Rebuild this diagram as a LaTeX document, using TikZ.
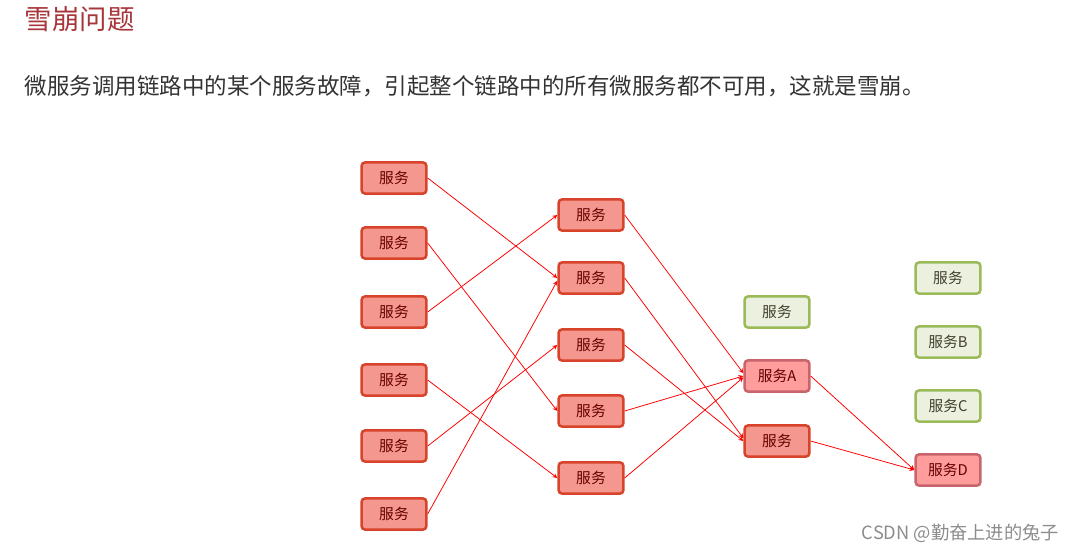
\documentclass[tikz,border=0pt]{standalone}
\usepackage{fontspec}
\setmainfont{Noto Sans CJK SC}
\newfontfamily\cjk{Noto Sans CJK SC}
\definecolor{boxred}{HTML}{F4978E}
\definecolor{edgered}{HTML}{D8432B}
\definecolor{boxpink}{HTML}{FF9C9C}
\definecolor{edgepink}{HTML}{C8646C}
\definecolor{boxgreen}{HTML}{EBF1DE}
\definecolor{edgegreen}{HTML}{9BBB59}
\definecolor{titlered}{HTML}{A8353A}
\begin{document}
\begin{tikzpicture}[>=stealth, x=0.025cm, y=-0.025cm,
 svc/.style={draw=edgered, fill=boxred, line width=1.8pt, rounded corners=2.5pt,
  minimum width=1.62cm, minimum height=0.78cm, inner sep=0pt,
  font=\cjk\fontsize{10.5}{10.5}\selectfont, text=red!40!black},
 bad/.style={svc, draw=edgepink, fill=boxpink},
 ok/.style={svc, draw=edgegreen, fill=boxgreen, text=black!70!olive},
 call/.style={->, red, line width=0.55pt}]
\useasboundingbox (0,0) rectangle (1079,552);
\node[anchor=west, text=titlered, font=\fontsize{19.5}{20}\selectfont] (title) at (20,19) {雪崩问题};
\node[anchor=west, text=black!80, font=\fontsize{16}{17}\selectfont] (desc) at (20,86)
 {微服务调用链路中的某个服务故障，引起整个链路中的所有微服务都不可用，这就是雪崩。};
% first column
\node[svc] (a1) at (394,178) {服务};
\node[svc] (a2) at (394,243) {服务};
\node[svc] (a3) at (394,312) {服务};
\node[svc] (a4) at (394,380) {服务};
\node[svc] (a5) at (394,446) {服务};
\node[svc] (a6) at (394,514) {服务};
% second column
\node[svc] (b1) at (591,215) {服务};
\node[svc] (b2) at (591,278) {服务};
\node[svc] (b3) at (591,345) {服务};
\node[svc] (b4) at (591,411) {服务};
\node[svc] (b5) at (591,478) {服务};
% third column
\node[ok] (c1) at (777,312) {服务};
\node[bad] (cA) at (777,376) {服务A};
\node[svc] (c3) at (777,441) {服务};
% fourth column
\node[ok] (d1) at (948,278) {服务};
\node[ok] (dB) at (948,342) {服务B};
\node[ok] (dC) at (948,406) {服务C};
\node[bad] (dD) at (948,470) {服务D};
\draw[call] (a1.east) -- (b2.west);
\draw[call] (a2.east) -- (b4.west);
\draw[call] (a3.east) -- (b1.west);
\draw[call] (a4.east) -- (b5.west);
\draw[call] (a5.east) -- (b3.west);
\draw[call] (a6.east) -- ([yshift=-2pt]b2.west);
\draw[call] (b1.east) -- ([yshift=2pt]cA.west);
\draw[call] (b2.east) -- ([yshift=2pt]c3.west);
\draw[call] (b3.east) -- (c3.west);
\draw[call] (b4.east) -- (cA.west);
\draw[call] (b5.east) -- ([yshift=-1pt]cA.west);
\draw[call] (cA.east) -- (dD.west);
\draw[call] (c3.east) -- (dD.west);
\node[anchor=east, text=black!45, font=\fontsize{13}{13}\selectfont] (mark) at (1064,533) {CSDN @勤奋上进的兔子};
\end{tikzpicture}
\end{document}
